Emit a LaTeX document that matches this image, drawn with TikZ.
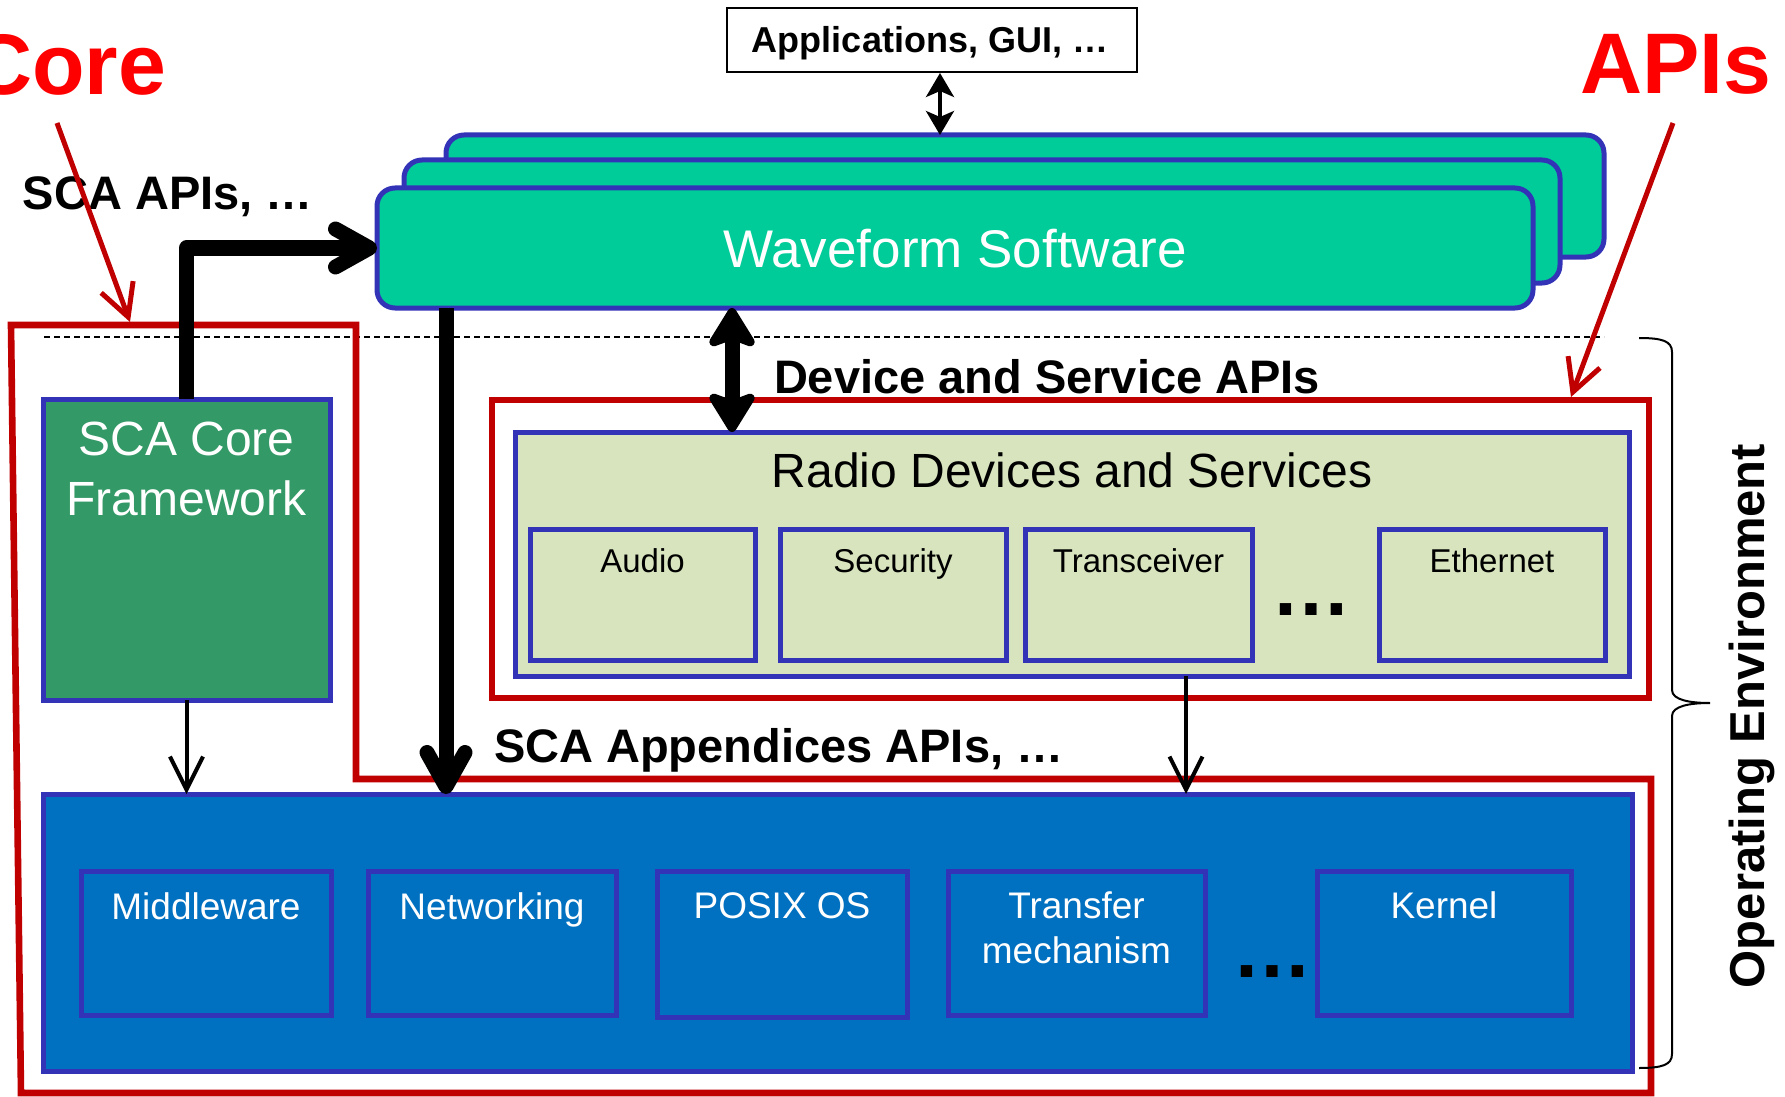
\documentclass[tikz,border=0pt]{standalone}
\usepackage{fontspec}
\setmainfont{Liberation Sans}
\usetikzlibrary{arrows.meta,fit,calc}
\definecolor{bord}{HTML}{3333B8}
\definecolor{wfgreen}{HTML}{00CC99}
\definecolor{coregreen}{HTML}{339966}
\definecolor{radiogreen}{HTML}{D7E4BD}
\definecolor{osblue}{HTML}{0070C0}
\definecolor{darkred}{HTML}{C00000}
\definecolor{brightred}{HTML}{FF0000}
\begin{document}
\begin{tikzpicture}[x=0.5pt, y=-0.5pt,
  txt/.style={inner sep=0pt, outer sep=0pt},
  boxb/.style={draw=bord, line width=2.5pt, inner sep=0pt, outer sep=0pt},
  wfbox/.style={boxb, fill=wfgreen, rounded corners=9pt},
  corebox/.style={boxb, fill=coregreen},
  radiobox/.style={boxb, fill=radiogreen},
  osbox/.style={boxb, fill=osblue},
  redline/.style={draw=darkred, line width=3.3pt},
  redarrow/.style={draw=darkred, line width=2.5pt, -{Straight Barb[length=16pt, width=17pt]}},
  bigarrow/.style={line width=7.5pt, line join=round, -{Straight Barb[round, length=17pt, width=19pt]}},
  bigboth/.style={line width=7.5pt, {Stealth[round, length=23pt, width=28pt, inset=5pt, line width=5pt]}-{Stealth[round, length=23pt, width=28pt, inset=5pt, line width=5pt]}},
  thinarrow/.style={line width=2pt, -{Straight Barb[length=16.5pt, width=16.5pt]}},
  thinboth/.style={line width=1.8pt, {Stealth[length=12pt, width=14pt, inset=3pt]}-{Stealth[length=12pt, width=14pt, inset=3pt]}},
  apifont/.style={font=\fontsize{23.5}{28}\selectfont\bfseries},
  sublbl/.style={txt, anchor=base, font=\fontsize{16.5}{20}\selectfont},
  oslbl/.style={txt, anchor=base, text=white, font=\fontsize{18.5}{22}\selectfont},
  dotsfont/.style={txt, anchor=base, font=\fontsize{40}{44}\selectfont\bfseries},
]
\useasboundingbox (0,0) rectangle (1785,1097);
\begin{scope}
\clip (0,0) rectangle (1785,1097);

% layer boundary
\coordinate (dashL) at (44,337);
\coordinate (dashR) at (1604,337);
\draw[line width=1pt, dash pattern=on 3pt off 2pt] (dashL) -- (dashR);

% outline of the core region
\draw[redline, line join=miter] (11,325) -- (356,325) -- (356,779) -- (1651,779)
  -- (1651,1093) -- (21,1093) -- cycle;

% outline of the device APIs region
\node[redline, inner sep=0pt, fit={(492,400)(1649,698)}] (devapi) {};

% waveform stack
\node[wfbox, fit={(446,135)(1604,257)}] (wfback) {};
\node[wfbox, fit={(404,160)(1560,283)}] (wfmid) {};
\node[wfbox, fit={(377,188)(1533,308)}] (wf) {};
\node[txt, anchor=base, text=white, font=\fontsize{26.5}{30}\selectfont] (wflbl) at (955,267) {Waveform Software};

% applications
\node[draw=black, line width=1pt, inner sep=0pt, fit={(727,8)(1137,72)}] (apps) {};
\node[txt, anchor=base, font=\fontsize{18}{22}\selectfont\bfseries] (appslbl) at (930,53) {Applications, GUI, …};

% radio devices and services
\node[radiobox, fit={(515,432)(1629,676)}] (radio) {};
\node[txt, anchor=base, font=\fontsize{24}{28}\selectfont] (radiotitle) at (1072,487) {Radio Devices and Services};
\node[radiobox, fit={(530,529)(755,660)}] (audio) {};
\node[radiobox, fit={(780,529)(1006,660)}] (security) {};
\node[radiobox, fit={(1025,529)(1252,660)}] (transceiver) {};
\node[radiobox, fit={(1379,529)(1605,660)}] (ethernet) {};
\node[sublbl] (audiolbl) at (642.5,572) {Audio};
\node[sublbl] (securitylbl) at (893,572) {Security};
\node[sublbl] (transceiverlbl) at (1138.5,572) {Transceiver};
\node[sublbl] (ethernetlbl) at (1492,572) {Ethernet};
\node[dotsfont] (radiodots) at (1311,615) {…};

% core framework
\node[corebox, fit={(43,399)(330,700)}] (scacore) {};
\node[txt, anchor=base, text=white, font=\fontsize{24}{30}\selectfont] (scacoreA) at (186.5,455) {SCA Core};
\node[txt, anchor=base, text=white, font=\fontsize{24}{30}\selectfont] (scacoreB) at (186.5,515) {Framework};

% operating environment services
\node[osbox, fit={(43,794)(1632,1071)}] (os) {};
\node[osbox, fit={(81,871)(331,1015)}] (mw) {};
\node[osbox, fit={(368,871)(616,1015)}] (net) {};
\node[osbox, fit={(657,871)(907,1017)}] (posix) {};
\node[osbox, fit={(948,871)(1205,1015)}] (transfer) {};
\node[osbox, fit={(1317,871)(1571,1015)}] (kernel) {};
\node[oslbl] (mwlbl) at (206,919) {Middleware};
\node[oslbl] (netlbl) at (492,919) {Networking};
\node[oslbl] (posixlbl) at (782,918) {POSIX OS};
\node[oslbl] (transferA) at (1076.5,918) {Transfer};
\node[oslbl] (transferB) at (1076.5,963) {mechanism};
\node[oslbl] (kernellbl) at (1444,918) {Kernel};
\node[dotsfont] (osdots) at (1272,977) {…};

% connectors
\coordinate (appsport) at ($(apps.south)+(8,0)$);
\draw[thinboth] (appsport) -- (appsport |- wfback.north);
\draw[bigarrow] (scacore.north) |- (wf.west);
\coordinate (wfout) at ($(wf.south west)+(69,0)$);
\draw[bigarrow] (wfout) -- (wfout |- os.north);
\coordinate (wfdev) at ($(wf.south west)+(355,0)$);
\draw[bigboth] (wfdev) -- (wfdev |- radio.north);
\draw[thinarrow] (scacore.south) -- (scacore.south |- os.north);
\coordinate (radout) at ($(radio.south west)+(671,0)$);
\draw[thinarrow] (radout) -- (radout |- os.north);

% interface labels
\node[txt, apifont, anchor=base west] (scaapis) at (23,210) {SCA APIs, …};
\node[txt, apifont, anchor=base west] (devapis) at (774,393) {Device and Service APIs};
\node[txt, apifont, anchor=base west] (appxapis) at (494,762) {SCA Appendices APIs, …};

% callouts
\node[txt, anchor=base east, text=brightred, font=\fontsize{43}{50}\selectfont\bfseries] (corelbl) at (166,95) {Core};
\node[txt, anchor=base west, text=brightred, font=\fontsize{43}{50}\selectfont\bfseries] (apilbl) at (1580,94) {APIs};
\coordinate (coretail) at (57,123);
\coordinate (corehit) at (130,322);
\draw[redarrow] (coretail) -- (corehit);
\coordinate (apitail) at (1673,123);
\coordinate (apihit) at (1571,397);
\draw[redarrow] (apitail) -- (apihit);

% operating environment brace
\coordinate (bracetop) at (1639,338);
\coordinate (bracetip) at (1710,703);
\coordinate (bracebot) at (1639,1068);
\draw[line width=1pt] (bracetop) .. controls (1662,338) and (1672,341) .. (1672,352)
  -- (1672,690) .. controls (1672,700) and (1690,703) .. (bracetip)
  .. controls (1690,703) and (1672,706) .. (1672,716)
  -- (1672,1054) .. controls (1672,1065) and (1662,1068) .. (bracebot);
\node[txt, anchor=base, rotate=90, font=\fontsize{24.5}{30}\selectfont\bfseries] (openv) at (1764,716) {Operating Environment};
\end{scope}
\end{tikzpicture}
\end{document}
